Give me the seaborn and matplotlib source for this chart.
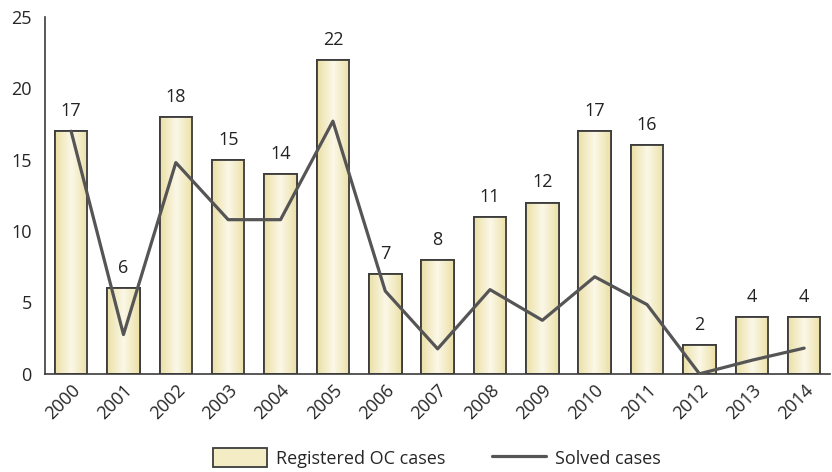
import numpy as np
import pandas as pd
import matplotlib
matplotlib.use("Agg")
import matplotlib.pyplot as plt
import seaborn as sns
from matplotlib.colors import LinearSegmentedColormap
from matplotlib.patches import Patch
from matplotlib.lines import Line2D

# data
years = [str(y) for y in range(2000, 2015)]
registered = [17, 6, 18, 15, 14, 22, 7, 8, 11, 12, 17, 16, 2, 4, 4]
solved = [17, 2.75, 14.8, 10.8, 10.8, 17.7, 5.8, 1.75, 5.9, 3.75, 6.8, 4.85, 0, 0.95, 1.8]

edge_col = '#3c3c3c'
line_col = '#555555'
grad = LinearSegmentedColormap.from_list('beige', ['#ece0a6', '#fbf8e8', '#ece0a6'])

sns.set_style('white')
plt.rcParams['font.family'] = ['Open Sans', 'DejaVu Sans']

df = pd.DataFrame({'year': years, 'registered': registered, 'solved': solved})

fig = plt.figure(figsize=(8.32, 4.72), dpi=100)
ax = fig.add_axes([0.054, 0.208, 0.944, 0.756])

sns.barplot(data=df, x='year', y='registered', ax=ax, width=0.62,
            color='#f3ecc4', edgecolor=edge_col, linewidth=1.3, zorder=2)

# horizontal gradient fill inside each bar
g = np.linspace(0, 1, 64).reshape(1, -1)
for p in ax.patches:
    x0, y0 = p.get_x(), p.get_y()
    w, h = p.get_width(), p.get_height()
    im = ax.imshow(g, cmap=grad, aspect='auto', extent=[x0, x0 + w, y0, y0 + h],
                   zorder=2.1, interpolation='bicubic')
    im.set_clip_path(p)
    ax.add_patch(plt.Rectangle((x0, y0), w, h, fill=False, edgecolor=edge_col,
                               linewidth=1.3, zorder=2.2))

ax.bar_label(ax.containers[0], padding=8, fontsize=13, color='#222222')

sns.lineplot(x=np.arange(len(years)), y=solved, ax=ax, color=line_col,
             linewidth=2.3, zorder=3)

ax.set_xlim(-0.5, 14.35)
ax.set_ylim(0, 25)
ax.set_yticks([0, 5, 10, 15, 20, 25])
ax.set_xticks(np.arange(-0.5, 15, 1), minor=True)
ax.set_xticks(np.arange(len(years)))
ax.set_xticklabels(years, rotation=45, ha='right', rotation_mode='anchor')
ax.tick_params(axis='x', which='major', length=0, labelsize=13, pad=5)
ax.tick_params(axis='x', which='minor', length=6, width=1, color=edge_col, direction='out')
ax.tick_params(axis='y', length=6, width=1, color=edge_col, labelsize=13, direction='out')
ax.set_xlabel('')
ax.set_ylabel('')
for s in ['top', 'right']:
    ax.spines[s].set_visible(False)
for s in ['left', 'bottom']:
    ax.spines[s].set_color(edge_col)
    ax.spines[s].set_linewidth(1.2)

handles = [Patch(facecolor='#f3ecc4', edgecolor=edge_col, linewidth=1.3),
           Line2D([0], [0], color=line_col, linewidth=2.3)]
fig.legend(handles, ['Registered OC cases', 'Solved cases'], loc='lower center',
           bbox_to_anchor=(0.525, -0.025), ncol=2, frameon=False, fontsize=13,
           columnspacing=2.6, handlelength=3.0, handleheight=1.2, handletextpad=0.5)

fig.savefig('out.png', dpi=100)
